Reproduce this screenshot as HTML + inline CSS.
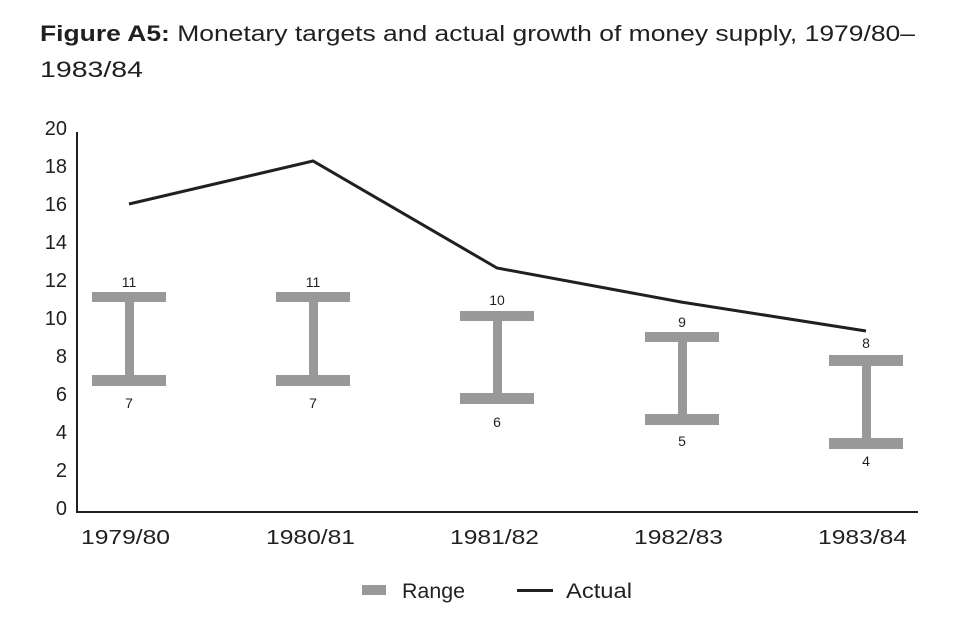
<!DOCTYPE html>
<html><head><style>
body{margin:0;background:#fff;width:955px;height:617px;overflow:hidden;font-family:"Liberation Sans",sans-serif;color:#231f20}
</style></head><body>
<svg width="955" height="617" style="position:absolute;left:0;top:0" font-family="Liberation Sans, sans-serif" fill="#231f20">
<text x="40" y="41" font-size="22" textLength="875" lengthAdjust="spacingAndGlyphs"><tspan font-weight="bold">Figure A5:</tspan> Monetary targets and actual growth of money supply, 1979/80–</text>
<text x="40" y="77" font-size="22" textLength="103" lengthAdjust="spacingAndGlyphs">1983/84</text>
<g font-size="20" text-anchor="end">
<text x="67" y="135">20</text><text x="67" y="173">18</text><text x="67" y="211">16</text><text x="67" y="249">14</text><text x="67" y="287">12</text><text x="67" y="325">10</text><text x="67" y="363">8</text><text x="67" y="401">6</text><text x="67" y="439">4</text><text x="67" y="477">2</text><text x="67" y="515">0</text>
</g>
<path d="M77 132V512H918" stroke="#231f20" stroke-width="2" fill="none"/>
<g fill="#999">
<rect x="92" y="292" width="74" height="10"/><rect x="92" y="375" width="74" height="11"/><rect x="125" y="300" width="9" height="78"/>
<rect x="276" y="292" width="74" height="10"/><rect x="276" y="375" width="74" height="11"/><rect x="309" y="300" width="9" height="78"/>
<rect x="460" y="311" width="74" height="10"/><rect x="460" y="393" width="74" height="11"/><rect x="493" y="319" width="9" height="78"/>
<rect x="645" y="332" width="74" height="10"/><rect x="645" y="414" width="74" height="11"/><rect x="678" y="340" width="9" height="78"/>
<rect x="829" y="355" width="74" height="11"/><rect x="829" y="438" width="74" height="11"/><rect x="862" y="364" width="9" height="78"/>
</g>
<polyline points="129,204 313,161 497,268 681,302 866,331" stroke="#231f20" stroke-width="3" fill="none"/>
<g font-size="14" text-anchor="middle">
<text x="129" y="287">11</text><text x="129" y="408">7</text>
<text x="313" y="287">11</text><text x="313" y="408">7</text>
<text x="497" y="305">10</text><text x="497" y="427">6</text>
<text x="682" y="327">9</text><text x="682" y="446">5</text>
<text x="866" y="348">8</text><text x="866" y="466">4</text>
</g>
<g font-size="20">
<text x="81" y="544" textLength="89" lengthAdjust="spacingAndGlyphs">1979/80</text>
<text x="266" y="544" textLength="89" lengthAdjust="spacingAndGlyphs">1980/81</text>
<text x="450" y="544" textLength="89" lengthAdjust="spacingAndGlyphs">1981/82</text>
<text x="634" y="544" textLength="89" lengthAdjust="spacingAndGlyphs">1982/83</text>
<text x="818" y="544" textLength="89" lengthAdjust="spacingAndGlyphs">1983/84</text>
</g>
<rect x="362" y="585" width="24" height="10" fill="#999"/>
<text x="402" y="598" font-size="21" textLength="63" lengthAdjust="spacingAndGlyphs">Range</text>
<rect x="517" y="589" width="36" height="3" fill="#231f20"/>
<text x="566" y="598" font-size="21" textLength="66" lengthAdjust="spacingAndGlyphs">Actual</text>
</svg>
</body></html>
